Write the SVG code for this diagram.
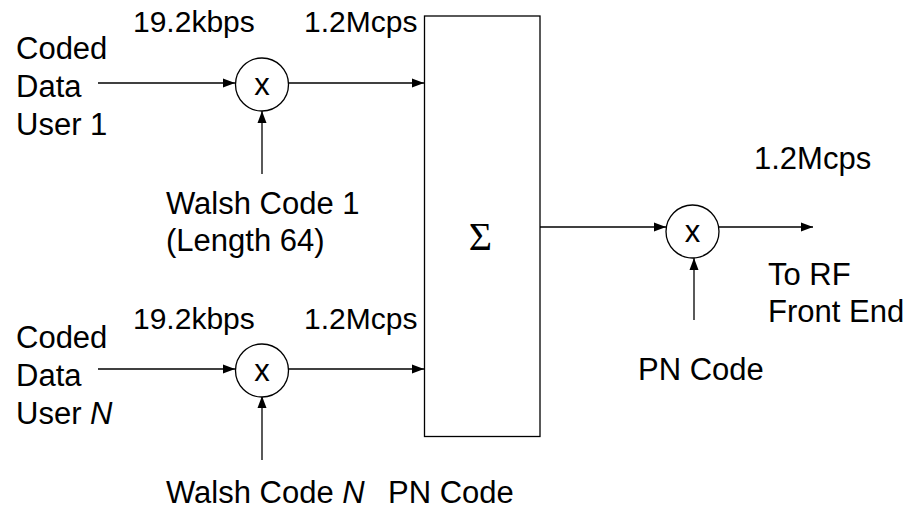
<svg xmlns="http://www.w3.org/2000/svg" width="913" height="512" viewBox="0 0 913 512">
<defs>
<style>
.t{font-family:"Liberation Sans",Arial,sans-serif;font-size:31px;fill:#000}
.r{font-size:30px}
.ln{stroke:#000;stroke-width:1.3;fill:none}
.nd{stroke:#000;stroke-width:1.3;fill:#fff}
</style>
<marker id="ah" markerWidth="12" markerHeight="10" refX="12" refY="5" orient="auto" markerUnits="userSpaceOnUse">
<path d="M0,0.5 L12,5 L0,9.5 Z" fill="#000"/>
</marker>
</defs>
<rect width="913" height="512" fill="#fff"/>
<g id="connectors">
<line class="ln" x1="98" y1="83" x2="235" y2="83" marker-end="url(#ah)"/>
<line class="ln" x1="288" y1="83" x2="424" y2="83" marker-end="url(#ah)"/>
<line class="ln" x1="262" y1="174" x2="262" y2="111" marker-end="url(#ah)"/>
<line class="ln" x1="98" y1="369" x2="235" y2="369" marker-end="url(#ah)"/>
<line class="ln" x1="288" y1="369" x2="424" y2="369" marker-end="url(#ah)"/>
<line class="ln" x1="262" y1="460" x2="262" y2="396" marker-end="url(#ah)"/>
<line class="ln" x1="540" y1="227" x2="666" y2="227" marker-end="url(#ah)"/>
<line class="ln" x1="719" y1="227" x2="813" y2="227" marker-end="url(#ah)"/>
<line class="ln" x1="694" y1="320" x2="694" y2="258" marker-end="url(#ah)"/>
</g>
<g id="mult1">
<circle class="nd" cx="262" cy="84.5" r="26.5"/>
<text class="t" x="262" y="95" text-anchor="middle" font-size="32">x</text>
</g>
<g id="multN">
<circle class="nd" cx="262" cy="370.5" r="26.5"/>
<text class="t" x="262" y="381" text-anchor="middle" font-size="32">x</text>
</g>
<g id="multPN">
<circle class="nd" cx="692.5" cy="231.5" r="26.5"/>
<text class="t" x="692.5" y="242" text-anchor="middle" font-size="32">x</text>
</g>
<g id="sum">
<rect class="nd" x="424.5" y="16" width="115.5" height="420.5"/>
<text x="480.5" y="249.5" text-anchor="middle" font-family="'Liberation Serif','Times New Roman',serif" font-size="40">Σ</text>
</g>
<g id="labels">
<text class="t" x="16" y="59">Coded</text>
<text class="t" x="16" y="97">Data</text>
<text class="t" x="16" y="135">User 1</text>
<text class="t r" x="133" y="32">19.2kbps</text>
<text class="t r" x="304" y="32">1.2Mcps</text>
<text class="t" x="166" y="214">Walsh Code 1</text>
<text class="t" x="166" y="251">(Length 64)</text>
<text class="t r" x="133" y="329">19.2kbps</text>
<text class="t r" x="304" y="329">1.2Mcps</text>
<text class="t" x="16" y="348">Coded</text>
<text class="t" x="16" y="386">Data</text>
<text class="t" x="16" y="424">User <tspan font-style="italic">N</tspan></text>
<text class="t" x="166" y="503">Walsh Code <tspan font-style="italic">N</tspan><tspan x="388">PN Code</tspan></text>
<text class="t" x="754" y="169">1.2Mcps</text>
<text class="t" x="768" y="285">To RF</text>
<text class="t" x="768" y="322">Front End</text>
<text class="t" x="638" y="380">PN Code</text>
</g>
</svg>
